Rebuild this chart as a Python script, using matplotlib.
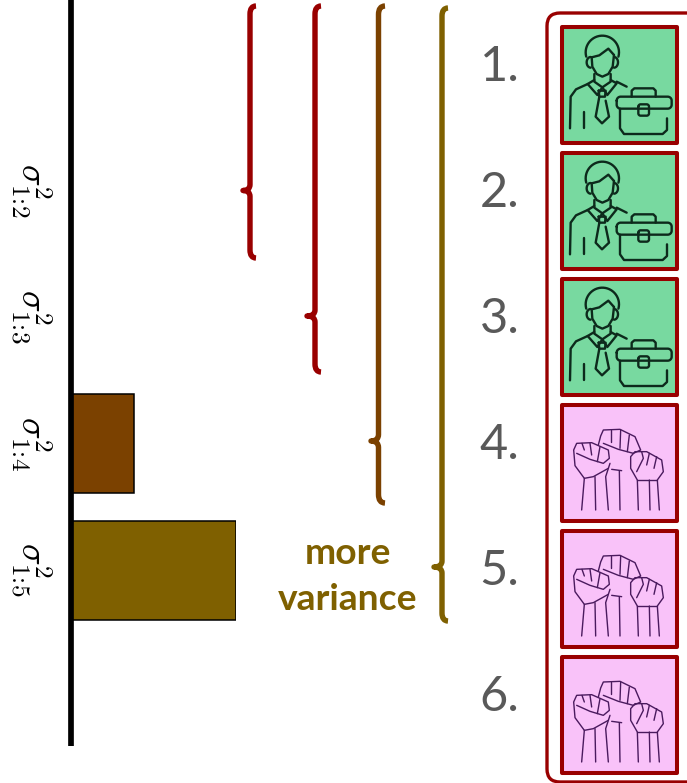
import numpy as np
import matplotlib
matplotlib.use("Agg")
import matplotlib.pyplot as plt
from matplotlib.patches import FancyBboxPatch, Rectangle
from matplotlib.path import Path
from matplotlib.patches import PathPatch

# ---- data
labels = [r"$\sigma^2_{1\!:\!2}$", r"$\sigma^2_{1\!:\!3}$", r"$\sigma^2_{1\!:\!4}$", r"$\sigma^2_{1\!:\!5}$"]
variance = [0.0, 0.0, 0.38, 1.0]
bar_colors = ["#990000", "#990000", "#7B4100", "#7F6000"]
ranks = ["1.", "2.", "3.", "4.", "5.", "6."]
groups = ["worker", "worker", "worker", "fist", "fist", "fist"]
annotation = "more\nvariance"

W, H = 687, 783
RED = "#990000"
plt.rcParams["mathtext.fontset"] = "cm"
fig = plt.figure(figsize=(W / 100, H / 100), dpi=100, facecolor="white")

# ---- bars
ax = fig.add_axes([71 / W, 1 - 746 / H, 165 / W, 746 / H])
ax.barh(range(4), variance, height=0.783, color=bar_colors, edgecolor="black", linewidth=1.1)
ax.set_xlim(0, 1)
ax.set_ylim(4.391, -1.506)
for s in ("top", "right", "bottom"):
    ax.spines[s].set_visible(False)
ax.spines["left"].set_linewidth(4.1)
ax.spines["left"].set_capstyle("butt")
ax.spines["left"].set_zorder(5)
ax.patch.set_alpha(0)
ax.set_xticks([])
ax.set_yticks(range(4), labels, rotation=-90, fontsize=26, va="center", ha="center")
ax.tick_params(axis="y", length=0, pad=29)
for t in ax.get_yticklabels():
    t.set_rotation_mode("default")

# ---- overlay in picture pixels
ov = fig.add_axes([0, 0, 1, 1], zorder=3)
ov.set_xlim(0, W)
ov.set_ylim(H, 0)
ov.axis("off")
ov.patch.set_alpha(0)


def brace(spine, end, tip, top, mid, bottom, color):
    r = end - spine
    verts = [(end, top), (spine, top), (spine, top + r + 2),
             (spine, mid - r), (spine, mid), (tip, mid),
             (spine, mid), (spine, mid + r),
             (spine, bottom - r - 2), (spine, bottom), (end, bottom)]
    codes = [Path.MOVETO, Path.CURVE3, Path.CURVE3,
             Path.LINETO, Path.CURVE3, Path.CURVE3,
             Path.CURVE3, Path.CURVE3,
             Path.LINETO, Path.CURVE3, Path.CURVE3]
    ov.add_patch(PathPatch(Path(verts, codes), fill=False, edgecolor=color, lw=3.9,
                           capstyle="butt", joinstyle="round"))


brace(250, 256, 243, 6, 190.5, 258, RED)
brace(315, 321, 307, 6, 316, 372, RED)
brace(378.5, 385, 371, 6, 441, 503, "#7B4100")
brace(442, 448, 434, 8, 567, 621, "#7F6000")

ov.text(348, 576.5, annotation, color="#7F6000", fontsize=26.8, fontweight="bold",
        family="Lato", ha="center", va="center", linespacing=1.5)

# outer rounded frame
ov.add_patch(FancyBboxPatch((547, 13), 160, 769, boxstyle="round,pad=0,rounding_size=13",
                            fc="white", ec=RED, lw=2.4))


def line(pts, ox, oy, lw, color):
    pts = np.asarray(pts, float)
    ov.plot(ox + pts[:, 0] / 3, oy + pts[:, 1] / 3, color=color, lw=lw,
            solid_capstyle="round", solid_joinstyle="round", zorder=4)


def arc(cx, cy, rx, ry, a0, a1):
    a = np.radians(np.linspace(a0, a1, 30))
    return np.c_[cx + rx * np.cos(a), cy + ry * np.sin(a)]


def rrect(x0, y0, x1, y1, r):
    return np.vstack([arc(x0 + r, y0 + r, r, r, 180, 270), arc(x1 - r, y0 + r, r, r, 270, 360),
                      arc(x1 - r, y1 - r, r, r, 0, 90), arc(x0 + r, y1 - r, r, r, 90, 180),
                      [[x0, y0 + r]]])


worker_icon = [
    arc(187, 157, 50, 50, 165, 375),
    [(155, 172), (178, 166), (205, 146), (222, 165)],
    [(155, 172), (157, 200), (170, 222), (187, 230), (205, 222), (218, 200), (222, 165)],
    arc(152, 187, 12, 16, 90, 270), arc(222, 187, 12, 16, -90, 90),
    [(163, 222), (163, 245), (187, 262), (212, 245), (212, 222)],
    [(163, 240), (143, 252), (172, 285), (187, 262), (202, 285), (230, 250), (212, 240)],
    [(143, 252), (108, 268), (92, 290), (90, 385)],
    [(230, 245), (260, 260)],
    [(132, 335), (132, 385)],
    [(176, 272), (197, 272), (195, 290), (178, 290), (176, 272)],
    [(178, 290), (167, 350), (186, 370), (207, 350), (197, 302)],
    rrect(230, 290, 395, 326, 12),
    [(240, 326), (240, 385), (252, 402), (368, 402), (381, 390), (381, 355)],
    [(275, 290), (275, 272), (283, 265), (340, 265), (347, 272), (347, 290)],
    rrect(295, 313, 327, 347, 7),
    [(381, 341), (381, 343)],
]
fist_icon = [
    [(125, 330), (133, 235), (105, 197), (101, 150), (110, 130), (155, 128), (205, 150), (208, 175), (190, 190), (150, 178), (110, 160)],
    [(133, 150), (126, 130)], [(155, 165), (150, 130)], [(172, 185), (180, 140)],
    [(133, 235), (160, 230), (205, 205)],
    [(167, 330), (165, 230)], [(205, 330), (197, 230), (210, 190)],
    [(175, 135), (182, 108), (190, 90), (240, 88), (285, 110), (302, 150), (280, 160), (235, 148), (190, 130)],
    [(212, 125), (212, 90)], [(240, 145), (242, 90)], [(262, 155), (268, 105)],
    [(215, 208), (245, 212)],
    [(240, 330), (238, 212)],
    [(295, 330), (292, 240), (272, 205), (272, 170), (285, 155), (320, 155), (365, 180), (370, 215), (352, 240), (358, 330)],
    [(290, 215), (310, 175), (305, 155)], [(320, 195), (328, 160)], [(342, 205), (350, 170)],
    [(292, 240), (325, 240), (352, 240)], [(330, 330), (328, 240)],
]

tops = [26, 152, 278, 404, 530, 656]
for rank, group, top in zip(ranks, groups, tops):
    fc = "#78D9A0" if group == "worker" else "#F9C2F9"
    ov.add_patch(Rectangle((562, top + 1), 115, 116, fc=fc, ec=RED, lw=2.9, joinstyle="round", zorder=3))
    ov.text(499.5, top + 41, rank, color="#595959", fontsize=35, family="Lato", ha="center", va="center")
    if group == "worker":
        for p in worker_icon:
            line(p, 540, top - 26, 1.7, "#0d2a1c")
    else:
        for p in fist_icon:
            line(p, 540, top - 4, 1.0, "#4A1A5E")

fig.savefig("out.png", dpi=100)
